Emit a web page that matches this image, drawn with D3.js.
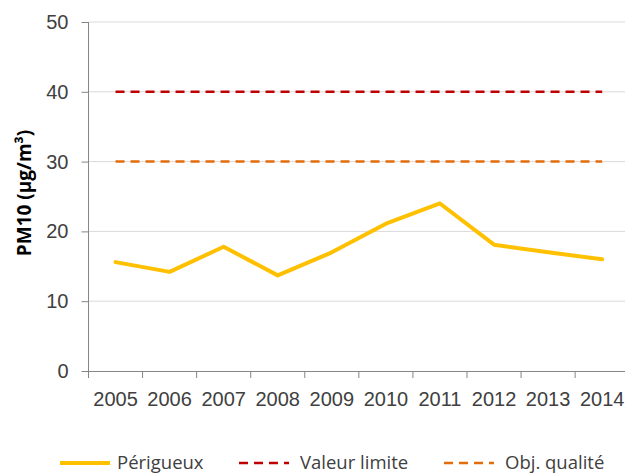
<!DOCTYPE html>
<html>
<head>
<meta charset="utf-8">
<script src="https://cdn.jsdelivr.net/npm/d3@7"></script>
<style>
  body { margin: 0; background: #fff; }
  svg { display: block; font-family: "Open Sans", "Liberation Sans", sans-serif; }
</style>
</head>
<body>
<svg id="chart" width="625" height="473"></svg>
<script>
// data
var YEARS = [2005, 2006, 2007, 2008, 2009, 2010, 2011, 2012, 2013, 2014];
var PERIGUEUX = [15.6, 14.2, 17.8, 13.7, 17.0, 21.1, 24.0, 18.1, 17.0, 16.0];
var VALEUR_LIMITE = [40, 40, 40, 40, 40, 40, 40, 40, 40, 40];
var OBJ_QUALITE = [30, 30, 30, 30, 30, 30, 30, 30, 30, 30];
var Y_TICKS = [0, 10, 20, 30, 40, 50];

var SERIES = [
  {name: "Périgueux", values: PERIGUEUX, color: "#FFC000", width: 4, dash: null},
  {name: "Valeur limite", values: VALEUR_LIMITE, color: "#C00000", width: 2.5, dash: "9,6"},
  {name: "Obj. qualité", values: OBJ_QUALITE, color: "#E46C0A", width: 2.5, dash: "9,6"}
];

var SVG = d3.select("svg#chart");

// plot area runs a little past the right edge, like the cropped original
var x = d3.scaleBand().domain(YEARS).range([88.5, 629.2]);
var y = d3.scaleLinear().domain([0, 50]).range([371, 22]);

//gridlines
SVG.append("g")
   .selectAll("line")
   .data(Y_TICKS.slice(1))
   .join("line")
   .attr("x1", x.range()[0]).attr("x2", x.range()[1])
   .attr("y1", d => y(d)).attr("y2", d => y(d))
   .attr("stroke", "#d9d9d9")
   .attr("stroke-width", 1);

//y axis
var yAxis = SVG.append("g")
   .attr("transform", "translate(" + x.range()[0] + ",0)")
   .call(d3.axisLeft(y).tickValues(Y_TICKS).tickSize(7).tickPadding(13));
yAxis.select(".domain").attr("stroke", "#868686").attr("d", "M0," + y(50) + "V" + (y(0) + 7));
yAxis.selectAll(".tick line").attr("stroke", "#868686");
yAxis.selectAll("text").attr("fill", "#404040").style("font-size", "20px");

//x axis (labels at band centres, ticks at band edges)
var xAxis = SVG.append("g")
   .attr("transform", "translate(0," + y(0) + ")")
   .call(d3.axisBottom(x).tickSize(0).tickPadding(21));
xAxis.select(".domain").attr("stroke", "#868686");
xAxis.selectAll("text").attr("fill", "#404040").style("font-size", "20px");
xAxis.selectAll("line.edge")
   .data(YEARS)
   .join("line")
   .attr("class", "edge")
   .attr("x1", d => x(d)).attr("x2", d => x(d))
   .attr("y1", 0).attr("y2", 7)
   .attr("stroke", "#868686");

//axis title
SVG.append("text")
   .attr("transform", "translate(31,193) rotate(-90)")
   .attr("text-anchor", "middle")
   .style("font-size", "19px")
   .style("font-weight", "bold")
   .attr("fill", "#000")
   .text("PM10 (µg/m³)");

//series lines
var line = d3.line()
   .x((d, i) => x(YEARS[i]) + x.bandwidth() / 2)
   .y(d => y(d));

SVG.append("g")
   .selectAll("path")
   .data(SERIES.slice().reverse())
   .join("path")
   .attr("d", d => line(d.values))
   .attr("fill", "none")
   .attr("stroke", d => d.color)
   .attr("stroke-width", d => d.width)
   .attr("stroke-dasharray", d => d.dash)
   .attr("stroke-linejoin", "round")
   .attr("stroke-linecap", d => d.dash ? "butt" : "round");

//legend
var LEGEND_X = [60, 239, 444];
var legend = SVG.append("g")
   .selectAll("g")
   .data(SERIES)
   .join("g")
   .attr("transform", (d, i) => "translate(" + LEGEND_X[i] + ",463)");
legend.append("line")
   .attr("x1", 0).attr("x2", 50)
   .attr("stroke", d => d.color)
   .attr("stroke-width", d => d.width)
   .attr("stroke-dasharray", d => d.dash);
legend.append("text")
   .attr("x", (d, i) => i === 0 ? 57 : 61)
   .attr("y", 6)
   .attr("fill", "#404040")
   .style("font-size", "18.5px")
   .text(d => d.name);
</script>
</body>
</html>
